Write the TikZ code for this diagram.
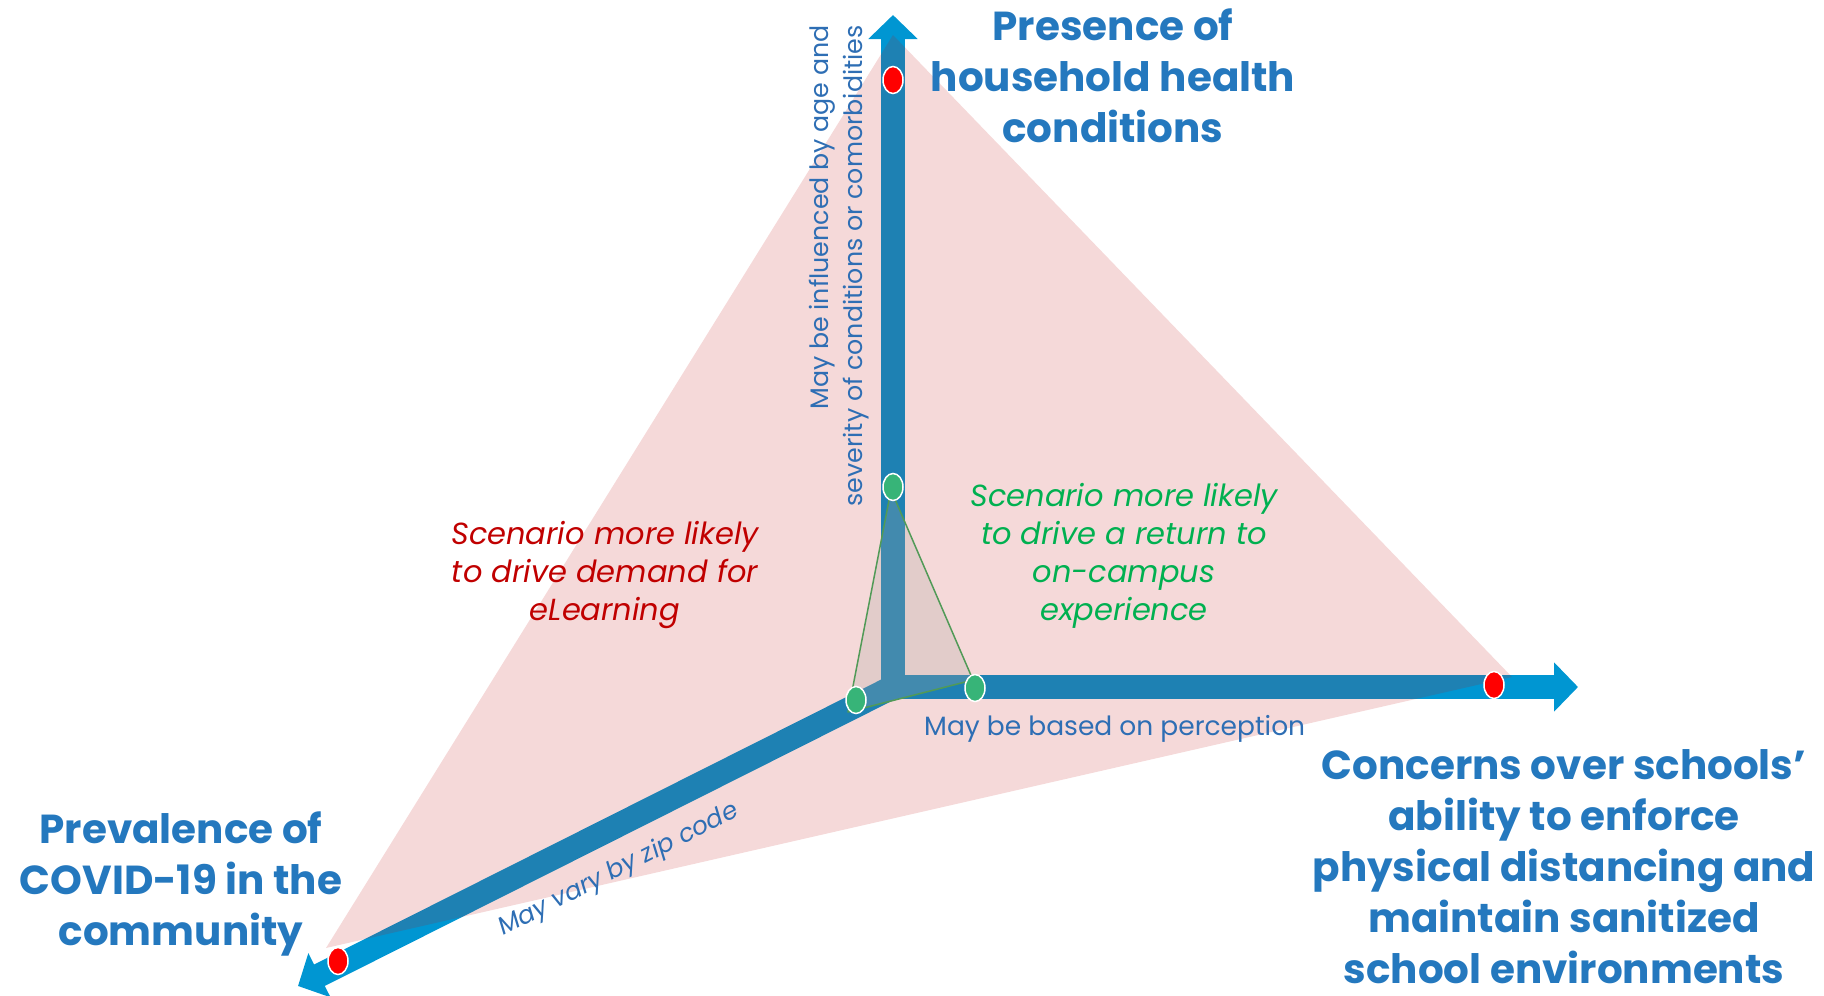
\documentclass[tikz,border=0pt]{standalone}
\usepackage{fontspec}
\setmainfont{Poppins}
\usetikzlibrary{arrows.meta,shapes.geometric}
\definecolor{ttl}{RGB}{36,120,190}
\definecolor{lbl}{RGB}{46,110,180}
\definecolor{axlight}{RGB}{0,150,210}
\definecolor{pinkred}{RGB}{192,20,20}
\definecolor{redtxt}{RGB}{192,0,0}
\definecolor{greentxt}{RGB}{0,176,80}
\definecolor{gdot}{RGB}{55,180,120}
\definecolor{gline}{RGB}{60,180,100}
\definecolor{smallfill}{RGB}{167,194,187}
\tikzset{
  axis/.style={draw=axlight, line width=24pt, -{Triangle[width=48pt,length=24pt]}},
  dotbase/.style={ellipse, minimum width=20pt, minimum height=27pt, inner sep=0pt, draw=white, line width=1.5pt},
  reddot/.style={dotbase, fill=red},
  greendot/.style={dotbase, fill=gdot},
  title/.style={font=\fontsize{40.5}{51}\selectfont\bfseries, text=ttl, align=center, inner sep=0pt},
  note/.style={font=\fontsize{26.5}{34}\selectfont, text=lbl, inner sep=0pt},
  scen/.style={font=\fontsize{30.5}{37.7}\selectfont\itshape, align=center, inner sep=0pt}
}
\begin{document}
\begin{tikzpicture}[x=1pt,y=-1pt]
\useasboundingbox (0,0) rectangle (1824,996);
% axis coordinates
\coordinate (Ov) at (893,699);
\coordinate (Oh) at (881,687);
\coordinate (O) at (893,687);
\coordinate (V) at (893,15);
\coordinate (H) at (1578,687);
\coordinate (D) at (298,986);
% axes
\draw[axis] (Ov) -- (V);
\draw[axis] (Oh) -- (H);
\draw[axis] (O) -- (D);
% small scenario triangle
\coordinate (sa) at (891,490);
\coordinate (sb) at (973,680);
\coordinate (sc) at (848,712);
\filldraw[fill=smallfill, fill opacity=0.26, draw=gline, line width=1.5pt, line join=round] (sa) -- (sb) -- (sc) -- cycle;
% large scenario triangle (translucent overlay)
\coordinate (ta) at (893,35);
\coordinate (tb) at (1512,677);
\coordinate (tc) at (326,948);
\fill[pinkred, fill opacity=0.16] (ta) -- (tb) -- (tc) -- cycle;
% dots
\node[reddot] (r1) at (893,80) {};
\node[reddot] (r2) at (1494,685) {};
\node[reddot] (r3) at (338,961) {};
\node[greendot] (g1) at (893,487) {};
\node[greendot] (g2) at (975,688) {};
\node[greendot] (g3) at (856,700) {};
% titles (anchor = baseline of last line)
\node[title, anchor=base] (tpres) at (1113,142) {Presence of\\household health\\conditions};
\node[title, anchor=base] (tconc) at (1564,983) {Concerns over schools’\\ability to enforce\\physical distancing and\\maintain sanitized\\school environments};
\node[title, anchor=base] (tprev) at (181,945) {Prevalence of\\COVID-19 in the\\community};
% notes
\node[note, font=\fontsize{25.3}{34}\selectfont, rotate=90, align=right, anchor=north east] (nvert) at (809,25) {May be influenced by age and\\severity of conditions or comorbidities};
\node[note, anchor=base west] (nhor) at (924,735) {May be based on perception};
\node[note, font=\fontsize{25}{34}\selectfont\itshape, rotate=27, anchor=base west] (ndiag) at (503,936) {May vary by zip code};
% scenario texts (anchor = baseline of last line)
\node[scen, text=redtxt, anchor=base] (sred) at (605,620) {Scenario more likely\\to drive demand for\\eLearning};
\node[scen, text=greentxt, anchor=base] (sgreen) at (1124,620) {Scenario more likely\\to drive a return to\\on-campus\\experience};
\end{tikzpicture}
\end{document}
